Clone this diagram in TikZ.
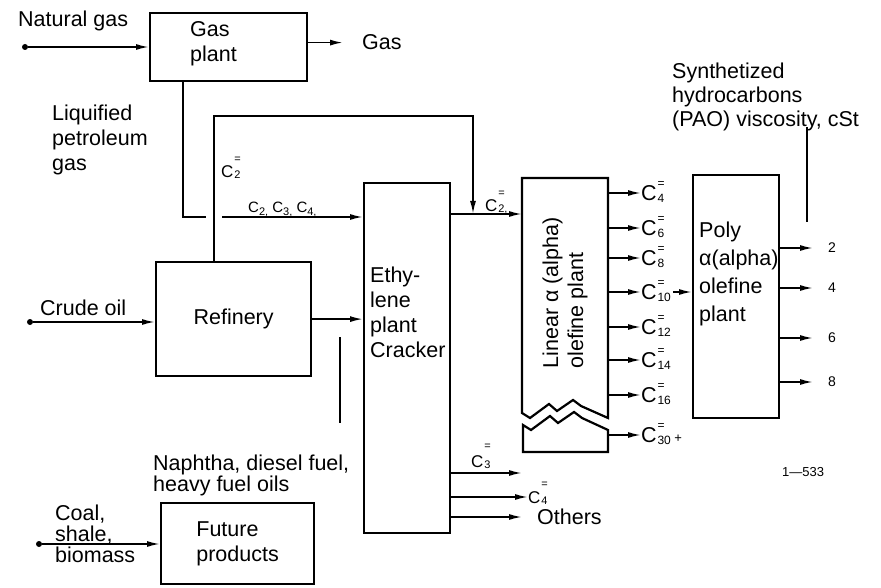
\documentclass[tikz,border=0pt]{standalone}
\usepackage{fontspec}
\setmainfont{Liberation Sans}
\usetikzlibrary{arrows.meta,calc}
% C with "=" above and a small index below: #1 index, #2 size, #3 raise of "=", #4 raise of index
\newcommand\Ceq[4]{C\kern0.8pt\rlap{\raisebox{#3}{\fontsize{#2}{#2}\selectfont =}}\raisebox{#4}{\fontsize{#2}{#2}\selectfont #1}}
\newcommand\Cs[2]{C\raisebox{-3pt}{\fontsize{#2}{#2}\selectfont #1}}
\begin{document}
\begin{tikzpicture}[x=1pt,y=-1pt,
  box/.style={draw, line width=2.2pt, rectangle, anchor=north west, inner sep=0pt},
  ln/.style={line width=1.7pt},
  arr/.style={ln, -{Latex[length=13pt,width=6pt]}},
  big/.style={font=\fontsize{21.5}{25}\selectfont},
  mid/.style={font=\fontsize{17}{20}\selectfont},
  sml/.style={font=\fontsize{14}{16}\selectfont},
  dot/.style={circle, fill, inner sep=0pt, minimum size=6pt},
  lbl/.style={inner sep=0pt, big}
]
\useasboundingbox (0,0) rectangle (881,588);

% ---------- boxes ----------
\node[box, minimum width=157pt, minimum height=68pt] (gasplant) at (149,12) {};
\node[box, minimum width=155pt, minimum height=114pt, big] (refinery) at (155,261) {Refinery};
\node[box, minimum width=86pt, minimum height=350pt] (ethylene) at (363,182) {};
\node[box, minimum width=153pt, minimum height=81pt, big, align=left] (future) at (160,502) {Future\\products};
\node[box, minimum width=86pt, minimum height=243pt] (poly) at (692,174) {};
\node[inner sep=0pt, minimum width=86pt, minimum height=274pt, anchor=north west] (linear) at (522,178) {};

% linear alpha olefine plant (broken box)
\draw[line width=2.2pt, line join=miter]
  (522,413) -- (522,178) -- (608,178) -- (608,418) -- (581,406) -- (573,400)
  -- (557,411) -- (549,404) -- (530,418) -- cycle;
\draw[line width=2.2pt, line join=miter]
  (523,425) -- (531,430) -- (550,416) -- (558,423) -- (574,412) -- (582,418)
  -- (608,430) -- (608,452) -- (523,452) -- cycle;

% ---------- box texts ----------
\node[lbl, anchor=west, align=left] (gastext) at (190,44) {Gas\\plant};
\node[lbl, anchor=west, align=left] (ethtext) at (370,312) {Ethy-\\lene\\plant\\Cracker};
\node[lbl, anchor=west, align=left, font=\fontsize{21.5}{28}\selectfont] (polytext) at (699,274) {Poly\\α(alpha)\\olefine\\plant};
\node[lbl, rotate=90, align=left] (lintext) at (565,293) {Linear α (alpha)\\olefine plant};

% ---------- free labels ----------
\node[lbl, anchor=base west] (natgas) at (18,27) {Natural gas};
\node[lbl, anchor=base west] (gasout) at (362,50) {Gas};
\node[lbl, anchor=west, align=left] (lpg) at (52,140) {Liquified\\petroleum\\gas};
\node[lbl, anchor=base west] (crude) at (40,315) {Crude oil};
\node[lbl, anchor=west, align=left, font=\fontsize{21.5}{20}\selectfont] (naphtha) at (153,475) {Naphtha, diesel fuel,\\heavy fuel oils};
\node[lbl, anchor=west, align=left, font=\fontsize{21.5}{21}\selectfont] (coal) at (55,534) {Coal,\\shale,\\biomass};
\node[lbl, anchor=west, align=left, font=\fontsize{21.5}{24}\selectfont] (synth) at (672,97) {Synthetized\\hydrocarbons\\(PAO) viscosity, cSt};
\node[inner sep=0pt, anchor=west, font=\fontsize{13}{15}\selectfont] (fignum) at (782,472) {1—533};

\node[inner sep=0pt, anchor=base west, font=\fontsize{15}{18}\selectfont] (c234) at (248,213) {\Cs{2,}{11} \Cs{3,}{11} \Cs{4,}{11}};
\node[inner sep=0pt, anchor=base west, mid] (c2a) at (221,178) {\Ceq{2}{11}{15pt}{-1pt}};
\node[inner sep=0pt, anchor=base west, mid] (c2b) at (485,212) {\Ceq{2,}{11}{15pt}{-1pt}};
\node[inner sep=0pt, anchor=base west, mid] (c3e) at (471,467) {\Ceq{3}{11}{18pt}{-1pt}};
\node[inner sep=0pt, anchor=west, mid, text height=12pt, text depth=0pt] (c4e) at (528,497) {\Ceq{4}{11}{16pt}{-1pt}};
\node[lbl, anchor=west] (others) at (537,517) {Others};

% ---------- dots ----------
\node[dot] (ngdot) at (25,47) {};
\node[dot] (crdot) at (30,322) {};
\node[dot] (coaldot) at (39,544) {};

% ---------- inputs ----------
\draw[arr] (ngdot) -- (ngdot -| gasplant.west);
\draw[arr] (crdot) -- (crdot -| refinery.west);
\draw[arr] (coaldot) -- (coaldot -| future.west);
\draw[arr, shorten >=19pt] (gasplant.east |- gasout) -- (gasout.west);

% gas plant -> ethylene (C2 C3 C4)
\coordinate (ethin) at ([yshift=-35pt]ethylene.north west);
\coordinate (gasdown) at ([xshift=34pt]gasplant.south west);
\draw[arr] (gasdown) |- (ethin);
% refinery C2= loop (crossing over the gas line)
\coordinate (refup) at ([xshift=59pt]refinery.north west);
\coordinate (cross) at (refup |- ethin);
\draw[white, line width=5pt] ([xshift=-8pt]cross) -- ([xshift=8pt]cross);
\coordinate (c2top) at (473,116);
\coordinate (e2) at ([yshift=-32pt]ethylene.north east);
\draw[arr] (refup) |- (c2top) -- (c2top |- e2);
\draw[arr] (e2) -- (e2 -| linear.west);

% refinery -> ethylene
\draw[arr] (refinery.east) -- (refinery.east -| ethylene.west);
% naphtha leader
\coordinate (nl1) at (340,337);
\coordinate (nl2) at (340,423);
\draw[ln] (nl1) -- (nl2);

% ethylene outputs
\coordinate (c3end) at (522,473);
\draw[arr] (c3end -| ethylene.east) -- (c3end);
\draw[arr] (ethylene.east |- c4e.west) -- (c4e.west);
\draw[arr, shorten >=15pt] (ethylene.east |- others.west) -- (others.west);

% linear outputs
\foreach \s/\y in {4/193,6/228,8/258,10/292,12/327,14/360,16/395}{
  \node[inner sep=0pt, anchor=west, big, text height=15.5pt, text depth=0pt] (c\s) at (641,\y) {\Ceq{\s}{12}{13pt}{-1.5pt}};
  \draw[arr] (linear.east |- c\s.west) -- (c\s.west);
}
\node[inner sep=0pt, anchor=west, big, text height=15.5pt, text depth=0pt] (c30) at (641,435) {\Ceq{30}{12}{13pt}{-1.5pt}\,{\fontsize{13}{13}\selectfont +}};
\draw[arr] (linear.east |- c30.west) -- (c30.west);
\draw[arr, shorten <=2pt] (c10.east) -- (c10.east -| poly.west);

% poly outputs
\foreach \v/\y in {2/248,4/288,6/338,8/382}{
  \node[inner sep=0pt, anchor=west, sml] (o\v) at (828,\y) {\v};
  \draw[arr, shorten >=15pt] (poly.east |- o\v.west) -- (o\v.west);
}
% viscosity leader
\coordinate (pl1) at (807,127);
\coordinate (pl2) at (807,222);
\draw[ln] (pl1) -- (pl2);
\end{tikzpicture}
\end{document}
